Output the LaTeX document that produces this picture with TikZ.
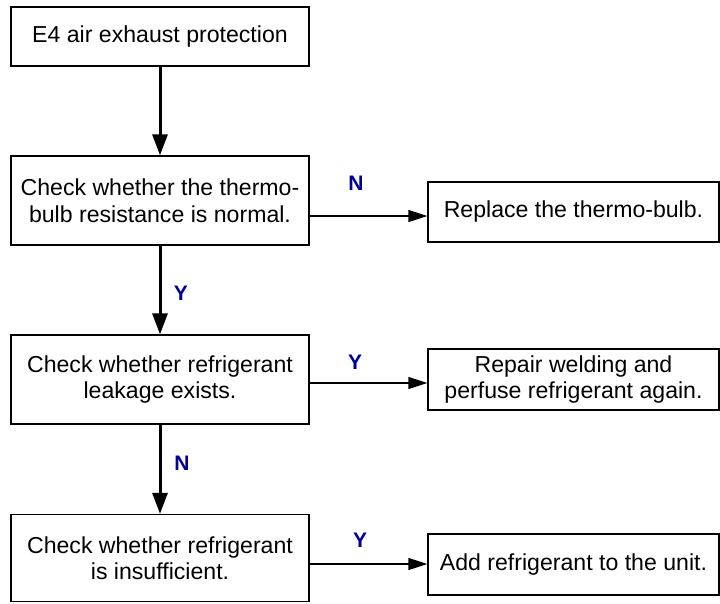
\documentclass[tikz,border=0pt]{standalone}
\usepackage{fontspec}
\setmainfont{Liberation Sans}
\usetikzlibrary{arrows.meta}
\definecolor{lblblue}{RGB}{0,0,153}
\begin{document}
\begin{tikzpicture}[x=1pt,y=-1pt,
  box/.style={draw=black,line width=1.3pt,fill=white,inner sep=0pt,align=center,
    font=\fontsize{23.1pt}{26.5pt}\selectfont},
  leftbox/.style={box,minimum width=298pt},
  rightbox/.style={box,minimum width=291pt},
  vflow/.style={line width=3pt,-{Triangle[length=21pt,width=15pt]}},
  hflow/.style={line width=1.3pt,-{Triangle[length=19pt,width=12pt]}},
  lbl/.style={text=lblblue,font=\fontsize{21pt}{24pt}\selectfont\bfseries,inner sep=0pt}]
\useasboundingbox (0,0) rectangle (720,603);
\node[leftbox,minimum height=59pt] (b1) at (160,36.5) {E4 air exhaust protection};
\node[leftbox,minimum height=89pt] (b2) at (160,200.5) {Check whether the thermo-\\bulb resistance is normal.};
\node[leftbox,minimum height=89pt] (b3) at (160,379.5) {Check whether refrigerant\\leakage exists.};
\node[leftbox,minimum height=87pt] (b4) at (160,558) {Check whether refrigerant\\is insufficient.};
\node[rightbox,minimum height=60pt] (r1) at (573.5,212) {Replace the thermo-bulb.};
\node[rightbox,minimum height=61pt] (r2) at (573.5,379.5) {Repair welding and\\perfuse refrigerant again.};
\node[rightbox,minimum height=61pt] (r3) at (573.5,564.5) {Add refrigerant to the unit.};
\draw[vflow] (b1) -- (b2);
\draw[vflow] (b2) -- (b3);
\draw[vflow] (b3) -- (b4);
\draw[hflow] (b2.east |- 0,216) -- (r1.west |- 0,216);
\draw[hflow] (b3.east |- 0,383) -- (r2.west |- 0,383);
\draw[hflow] (b4.east |- 0,564) -- (r3.west |- 0,564);
\node[lbl] (n1) at (356,183) {N};
\node[lbl] (y1) at (181,293) {Y};
\node[lbl] (y2) at (355,362) {Y};
\node[lbl] (n2) at (182,463) {N};
\node[lbl] (y3) at (360,540) {Y};
\end{tikzpicture}
\end{document}
